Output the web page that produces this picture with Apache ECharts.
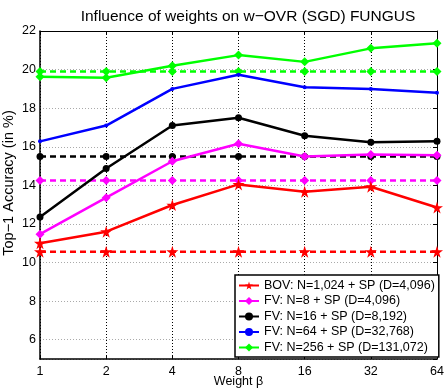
<!DOCTYPE html>
<html>
<head>
<meta charset="utf-8">
<script src="https://cdn.jsdelivr.net/npm/echarts@6/dist/echarts.min.js"></script>
<style>
  html, body { margin: 0; padding: 0; background: #fff; }
  #chart { width: 444px; height: 389px; }
</style>
</head>
<body>
<div id="chart"></div>
<script>
// weight beta values on x axis
const weights = ['1', '2', '4', '8', '16', '32', '64']

// solid lines = weighted OVR, dashed = baseline (unweighted)
const bovVals = [11.0, 11.6, 12.98, 14.05, 13.67, 13.93, 12.85]
const fv8Vals = [11.47, 13.36, 15.25, 16.16, 15.5, 15.6, 15.56]
const fv16Vals = [12.36, 14.87, 17.1, 17.5, 16.57, 16.23, 16.28]
const fv64Vals = [16.28, 17.1, 19.0, 19.73, 19.08, 19.0, 18.8]
const fv256Vals = [19.63, 19.58, 20.2, 20.75, 20.4, 21.1, 21.37]

const bovBase = 10.56
const fv8Base = 14.25
const fv16Base = 15.5
const fv64Base = null // no baseline drawn for N=64
const fv256Base = 19.9

const names = [
  'BOV: N=1,024 + SP (D=4,096)',
  'FV: N=8 + SP (D=4,096)',
  'FV: N=16 + SP (D=8,192)',
  'FV: N=64 + SP (D=32,768)',
  'FV: N=256 + SP (D=131,072)'
]

const star = 'path://M50,0 L61,35 L98,35 L68,57 L79,91 L50,70 L21,91 L32,57 L2,35 L39,35 Z'

const styles = [
  { color: '#ff0000', symbol: star, size: 12 },
  { color: '#ff00ff', symbol: 'diamond', size: 9 },
  { color: '#000000', symbol: 'circle', size: 7 },
  { color: '#0000ff', symbol: 'circle', size: 4 },
  { color: '#00ff00', symbol: 'diamond', size: 9 }
]
const solid = [bovVals, fv8Vals, fv16Vals, fv64Vals, fv256Vals]
const bases = [bovBase, fv8Base, fv16Base, fv64Base, fv256Base]

const font = 'Liberation Sans, Arial, sans-serif'

let series = []
solid.forEach((vals, i) => {
  let s = styles[i]
  series.push({
    name: names[i],
    type: 'line',
    data: vals,
    symbol: s.symbol,
    symbolSize: s.size,
    showAllSymbol: true,
    lineStyle: { color: s.color, width: 2.5 },
    itemStyle: { color: s.color },
    z: 3,
    animation: false
  })
})
bases.forEach((b, i) => {
  if (b === null) return
  let s = styles[i]
  series.push({
    name: names[i] + ' base',
    type: 'line',
    data: weights.map(() => b),
    symbol: s.symbol,
    symbolSize: s.size,
    lineStyle: { color: s.color, width: 2.5, type: [6, 4] },
    itemStyle: { color: s.color },
    z: 2,
    animation: false
  })
})

let chart = echarts.init(document.getElementById('chart'))
let option = {
  backgroundColor: '#fff',
  animation: false,
  title: {
    text: 'Influence of weights on w\u2212OVR (SGD) FUNGUS',
    left: 243,
    textAlign: 'center',
    top: 4,
    textStyle: { fontFamily: font, fontSize: 15.5, fontWeight: 'normal', color: '#000' }
  },
  grid: { left: 40, right: 7, top: 31, bottom: 30, outerBoundsMode: 'none', containLabel: false },
  legend: {
    data: names,
    orient: 'vertical',
    left: 235,
    top: 275,
    padding: [4, 4, 3, 3],
    itemGap: 2.5,
    itemWidth: 20,
    itemHeight: 10,
    backgroundColor: '#fff',
    borderColor: '#000',
    borderWidth: 1.5,
    borderRadius: 0,
    textStyle: { fontFamily: font, fontSize: 12.5, lineHeight: 13, color: '#000' }
  },
  xAxis: [{
    type: 'category',
    data: weights,
    boundaryGap: false,
    name: 'Weight \u03b2',
    nameLocation: 'middle',
    nameGap: 16,
    nameMoveOverlap: false,
    nameTextStyle: { fontFamily: font, fontSize: 12.5, color: '#000' },
    axisLine: { lineStyle: { color: '#000', width: 1.5 } },
    axisTick: { inside: true, length: 4, lineStyle: { color: '#000' } },
    axisLabel: { fontFamily: font, fontSize: 12.5, color: '#000', margin: 6 },
    splitLine: { show: true, lineStyle: { color: '#000', type: [1, 2], width: 1 } }
  }, {
    type: 'category',
    data: weights,
    boundaryGap: false,
    position: 'top',
    axisLine: { lineStyle: { color: '#000', width: 1 } },
    axisTick: { inside: true, length: 4, lineStyle: { color: '#000' } },
    axisLabel: { show: false },
    splitLine: { show: false }
  }],
  yAxis: [{
    type: 'value',
    min: 5,
    max: 22,
    splitNumber: 8,
    minInterval: 2,
    maxInterval: 2,
    name: 'Top\u22121 Accuracy (in %)',
    nameLocation: 'middle',
    nameGap: 24,
    nameMoveOverlap: false,
    nameTextStyle: { fontFamily: font, fontSize: 14.5, color: '#000', padding: [0, 0, 0, 24] },
    axisLine: { show: true, lineStyle: { color: '#000', width: 1.5 } },
    axisTick: { inside: true, length: 4, lineStyle: { color: '#000' } },
    axisLabel: {
      fontFamily: font, fontSize: 12.5, color: '#000', margin: 4,
      formatter: (v) => (v % 2 === 0 ? String(v) : '')
    },
    splitLine: { show: true, lineStyle: { color: '#aaa', type: [1, 2], width: 1 } }
  }, {
    type: 'value',
    min: 5,
    max: 22,
    splitNumber: 8,
    minInterval: 2,
    maxInterval: 2,
    position: 'right',
    axisLine: { show: true, lineStyle: { color: '#000', width: 1 } },
    axisTick: { show: true, inside: true, length: 4, lineStyle: { color: '#000' } },
    axisLabel: { show: false },
    splitLine: { show: false }
  }],
  series: series
}
option && chart.setOption(option)
</script>
</body>
</html>
